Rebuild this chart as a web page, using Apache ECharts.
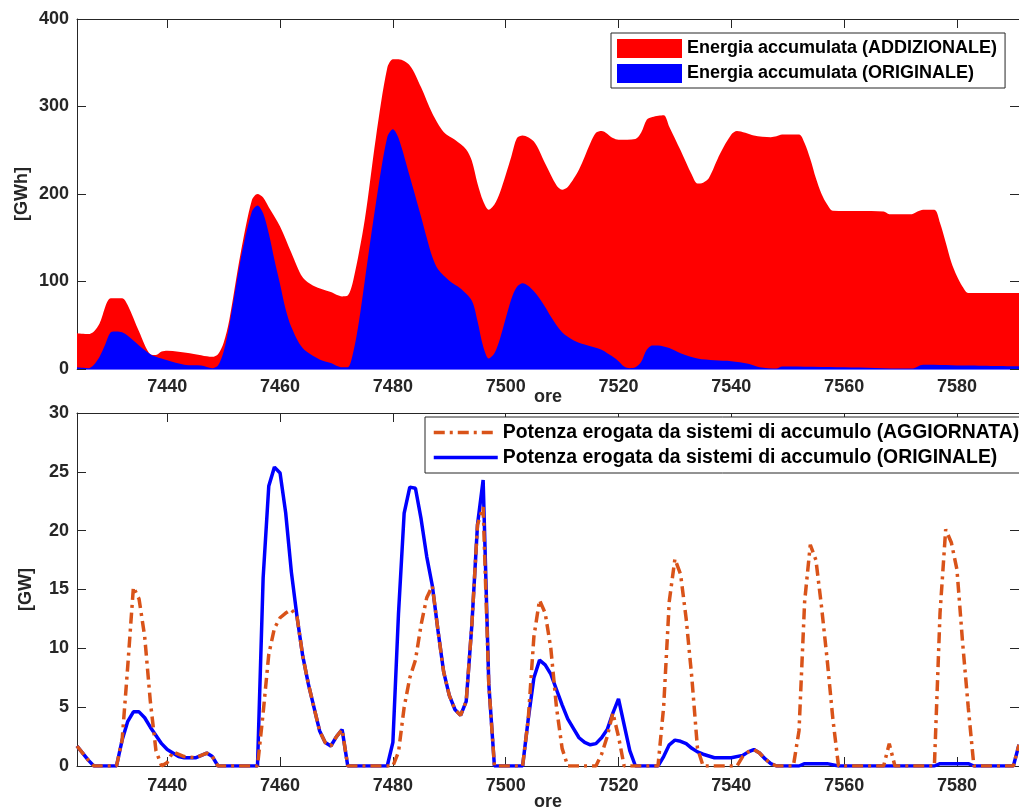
<!DOCTYPE html>
<html><head><meta charset="utf-8">
<script src="https://cdn.jsdelivr.net/npm/echarts@6/dist/echarts.min.js"></script>
<style>html,body{margin:0;padding:0;background:#fff}#c{width:1019px;height:809px}</style>
</head><body><div id="c"></div>
<script>
// ---- data ----
const xTicks = [7440, 7460, 7480, 7500, 7520, 7540, 7560, 7580];
const hourMin = 7424, hourMax = 7591;

// Top panel: energy [GWh] (hour, value)
const energiaAddizionale = [
 [7424,41],[7426,40],[7427,43],[7428,52],[7430,81],[7432,81],[7433,73],[7435,43],[7437,17],[7438,16],
 [7439,20],[7440,21],[7444,18],[7448,14],[7449,17],[7450,30],[7451,56],[7453,132],[7455,193],[7456,200],
 [7457,196],[7458,185],[7460,163],[7462,133],[7464,105],[7466,95],[7469,88],[7471,83],[7472,84],[7473,102],
 [7475,170],[7477,265],[7479,344],[7480,354],[7481,354],[7483,347],[7485,322],[7487,292],[7489,271],[7491,262],
 [7493,251],[7494,238],[7495,212],[7496,192],[7497,182],[7498,188],[7499,202],[7501,243],[7502,264],[7503,267],
 [7505,260],[7507,235],[7509,210],[7510,205],[7511,208],[7513,228],[7515,258],[7516,270],[7517,272],[7519,264],
 [7520,262],[7523,263],[7524,270],[7525,285],[7526,288],[7528,290],[7529,277],[7531,250],[7533,222],[7534,212],
 [7535,213],[7536,218],[7538,246],[7540,268],[7541,272],[7544,267],[7547,265],[7548,266],[7549,268],[7552,268],
 [7553,258],[7554,240],[7555,218],[7556,200],[7557,188],[7558,181],[7567,180],[7568,177],[7572,177],[7573,180],
 [7574,182],[7576,182],[7577,167],[7578,145],[7579,122],[7580,106],[7581,94],[7582,87],[7591,87]
];
const energiaOriginale = [
 [7424,2],[7426,1],[7427,5],[7428,14],[7429,28],[7430,42],[7431,43],[7432,42],[7433,38],[7435,27],
 [7437,17],[7438,14],[7440,10],[7443,5],[7446,4],[7448,1],[7449,4],[7450,20],[7451,50],[7453,125],
 [7455,180],[7456,187],[7457,178],[7458,155],[7459,125],[7460,97],[7461,68],[7462,48],[7464,24],[7467,11],
 [7469,7],[7471,2],[7472,2],[7473,20],[7474,55],[7475,100],[7477,190],[7479,265],[7480,274],[7481,264],
 [7483,220],[7485,174],[7486,150],[7487,128],[7488,114],[7490,101],[7492,92],[7494,78],[7495,55],[7496,26],
 [7497,12],[7498,18],[7499,35],[7501,80],[7502,94],[7503,98],[7505,89],[7507,71],[7508,60],[7510,42],
 [7512,33],[7514,28],[7517,22],[7518,18],[7519,14],[7520,9],[7521,3],[7522,1],[7523,2],[7524,8],
 [7525,22],[7526,27],[7527,27],[7529,24],[7531,18],[7534,12],[7537,10],[7540,9],[7543,6],[7545,2],
 [7548,0.5],[7549,3],[7560,2],[7571,0.5],[7572,0.5],[7574,5],[7582,4],[7591,3]
];

// Bottom panel: power [GW] (hour, value)
const potenzaAggiornata = [
 [7424,1.7],[7425,1.1],[7426,0.5],[7427,0],[7431,0],[7432,2.2],[7433,8.5],[7434,15.2],[7435,14.2],[7436,11],
 [7437,5.5],[7438,1.3],[7439,0],[7440,0.3],[7441,1.2],[7443,0.8],[7445,0.7],[7447,1.1],[7448,0.8],[7449,0],
 [7456,0],[7457,4.5],[7458,9.5],[7459,11.7],[7460,12.6],[7461,13],[7462,13.3],[7463,12.7],[7464,9.4],[7465,7],
 [7466,5],[7467,3],[7468,2],[7469,1.7],[7470,2.5],[7471,3.1],[7472,0],[7480,0],[7481,1.2],[7482,5],
 [7483,7.5],[7484,9],[7485,12],[7486,14.3],[7487,15.3],[7488,11.5],[7489,8],[7490,6],[7491,4.8],[7492,4.3],
 [7493,5.5],[7494,12],[7495,20.5],[7496,22],[7497,7],[7498,0],[7503,0],[7504,4],[7505,11],[7506,14.1],
 [7507,13],[7508,10],[7509,5],[7510,1.5],[7511,0],[7516,0],[7517,1],[7518,2.5],[7519,4.5],[7520,2.5],
 [7521,0],[7527,0],[7528,5],[7529,14],[7530,17.6],[7531,16.3],[7532,12.5],[7533,7.5],[7534,1.5],[7535,0],
 [7541,0],[7542,0.8],[7543,1.2],[7544,1.4],[7545,1.1],[7546,0.6],[7547,0.2],[7548,0],[7551,0],[7552,3],
 [7553,14],[7554,18.8],[7555,17.5],[7556,13.5],[7557,9],[7558,4],[7559,0],[7567,0],[7568,1.9],[7569,0],
 [7576,0],[7577,13],[7578,20.1],[7579,19],[7580,16.7],[7581,10.5],[7582,5],[7583,0],[7590,0],[7591,1.8]
];
const potenzaOriginale = [
 [7424,1.7],[7425,1.1],[7426,0.5],[7427,0],[7431,0],[7432,2.2],[7433,3.8],[7434,4.6],[7435,4.6],[7436,4.1],
 [7437,3.3],[7438,2.6],[7439,1.9],[7440,1.4],[7441,1.1],[7442,0.8],[7443,0.7],[7445,0.7],[7447,1.1],[7448,0.8],
 [7449,0],[7456,0],[7457,16],[7458,23.8],[7459,25.4],[7460,24.9],[7461,21.5],[7462,16.5],[7463,12.7],[7464,9.4],
 [7465,7],[7466,5],[7467,3],[7468,2],[7469,1.7],[7470,2.5],[7471,3.1],[7472,0],[7479,0],[7480,2],
 [7481,13],[7482,21.5],[7483,23.7],[7484,23.6],[7485,21],[7486,17.8],[7487,15.3],[7488,11.5],[7489,8],[7490,6],
 [7491,4.8],[7492,4.3],[7493,5.5],[7494,12],[7495,20.5],[7496,24.3],[7497,7],[7498,0],[7503,0],[7504,4],
 [7505,7.5],[7506,9],[7507,8.6],[7508,7.8],[7509,6.5],[7510,5.2],[7511,4],[7512,3.2],[7513,2.4],[7514,2],
 [7515,1.8],[7516,1.9],[7517,2.4],[7518,3.1],[7519,4.5],[7520,5.7],[7521,3.5],[7522,1.3],[7523,0],[7527,0],
 [7528,0.8],[7529,1.8],[7530,2.2],[7531,2.1],[7532,1.9],[7533,1.5],[7534,1.2],[7535,1],[7537,0.7],[7540,0.7],
 [7542,0.9],[7543,1.2],[7544,1.4],[7545,1.1],[7546,0.6],[7547,0.2],[7548,0],[7552,0],[7553,0.2],[7557,0.2],
 [7559,0],[7576,0],[7577,0.2],[7582,0.2],[7583,0],[7590,0],[7591,1.8]
];

const nameAdd = 'Energia accumulata (ADDIZIONALE)';
const nameOrig = 'Energia accumulata (ORIGINALE)';
const namePAgg = 'Potenza erogata da sistemi di accumulo (AGGIORNATA)';
const namePOrig = 'Potenza erogata da sistemi di accumulo (ORIGINALE)';

// ---- chart ----
const FF = '"Liberation Sans", Arial, Helvetica, sans-serif';
const AX = '#262626';
const lbl = {fontSize: 18, fontWeight: 'bold', color: AX, fontFamily: FF};

function xAx(grid, pos, withLabels, nameGap, margin, lineColor) {
  const a = {
    type: 'value', gridIndex: grid, min: hourMin, max: hourMax, position: pos,
    axisLine: {show: true, onZero: false, lineStyle: {color: lineColor || AX, width: 1}},
    axisTick: {show: true, inside: true, length: 9, customValues: xTicks, lineStyle: {color: AX, width: 1}},
    axisLabel: Object.assign({show: withLabels, customValues: xTicks, margin: margin || 7,
      formatter: v => String(v)}, lbl),
    splitLine: {show: false}
  };
  if (withLabels) {
    a.name = 'ore'; a.nameLocation = 'middle'; a.nameGap = nameGap; a.nameMoveOverlap = false;
    a.nameTextStyle = Object.assign({}, lbl);
  }
  return a;
}
function yAx(grid, pos, max, interval, withLabels, name, nameGap) {
  const a = {
    type: 'value', gridIndex: grid, min: 0, max: max, interval: interval, position: pos,
    axisLine: {show: true, onZero: false, lineStyle: {color: AX, width: 1}},
    axisTick: {show: true, inside: true, length: 9, lineStyle: {color: AX, width: 1}},
    axisLabel: Object.assign({show: withLabels, margin: 8}, lbl),
    splitLine: {show: false}
  };
  if (withLabels) {
    a.name = name; a.nameLocation = 'middle'; a.nameGap = nameGap; a.nameRotate = 90;
    a.nameMoveOverlap = false;
    a.nameTextStyle = Object.assign({}, lbl);
  }
  return a;
}

const option = {
  animation: false,
  backgroundColor: '#fff',
  grid: [
    {left: 77, top: 19, right: 0, height: 350, outerBoundsMode: 'none', containLabel: false},
    {left: 77, top: 413, right: 0, height: 353, outerBoundsMode: 'none', containLabel: false}
  ],
  xAxis: [xAx(0, 'bottom', true, 19, 9, '#6a6aff'), xAx(0, 'top', false), xAx(1, 'bottom', true, 27, 11), xAx(1, 'top', false)],
  yAxis: [yAx(0, 'left', 400, 100, true, '[GWh]', 46), yAx(0, 'right', 400, 100, false),
          yAx(1, 'left', 30, 5, true, '[GW]', 42), yAx(1, 'right', 30, 5, false)],
  legend: [
    {
      data: [nameAdd, nameOrig], orient: 'vertical', left: 611, top: 33,
      padding: [6, 8, 5, 6], itemGap: 6, itemWidth: 65, itemHeight: 19, icon: 'rect',
      borderColor: AX, borderWidth: 1, backgroundColor: '#fff', selectedMode: false,
      textStyle: {fontSize: 18, fontWeight: 'bold', color: '#000', fontFamily: FF}
    },
    {
      data: [namePAgg, namePOrig], orient: 'vertical', left: 425, top: 417,
      padding: [6, 4, 6, 7], itemGap: 6, itemWidth: 64, itemHeight: 20,
      borderColor: AX, borderWidth: 1, backgroundColor: '#fff', selectedMode: false,
      itemStyle: {opacity: 0},
      lineStyle: {width: 3.5},
      textStyle: {fontSize: 19.4, fontWeight: 'bold', color: '#000', fontFamily: FF}
    }
  ],
  series: [
    {
      name: nameAdd, type: 'line', xAxisIndex: 0, yAxisIndex: 0, data: energiaAddizionale,
      symbol: 'none', showSymbol: false, smooth: 0.3, itemStyle: {color: '#FF0000'},
      lineStyle: {width: 0, color: '#FF0000'}, areaStyle: {color: '#FF0000', opacity: 1}, z: 2
    },
    {
      name: nameOrig, type: 'line', xAxisIndex: 0, yAxisIndex: 0, data: energiaOriginale,
      symbol: 'none', showSymbol: false, smooth: 0.3, itemStyle: {color: '#0000FF'},
      lineStyle: {width: 0, color: '#0000FF'}, areaStyle: {color: '#0000FF', opacity: 1}, z: 3
    },
    {
      name: namePOrig, type: 'line', xAxisIndex: 2, yAxisIndex: 2, data: potenzaOriginale,
      symbol: 'none', showSymbol: false, itemStyle: {color: '#0000FF'},
      lineStyle: {width: 3.5, color: '#0000FF', type: 'solid'}, z: 3
    },
    {
      name: namePAgg, type: 'line', xAxisIndex: 2, yAxisIndex: 2, data: potenzaAggiornata,
      symbol: 'none', showSymbol: false, itemStyle: {color: '#D95319'},
      lineStyle: {width: 3.5, color: '#D95319', type: [11, 5, 3, 5]}, z: 4
    }
  ]
};
const chart = echarts.init(document.getElementById('c'), null, {renderer: 'canvas'});
chart.setOption(option);
</script>
</body></html>
